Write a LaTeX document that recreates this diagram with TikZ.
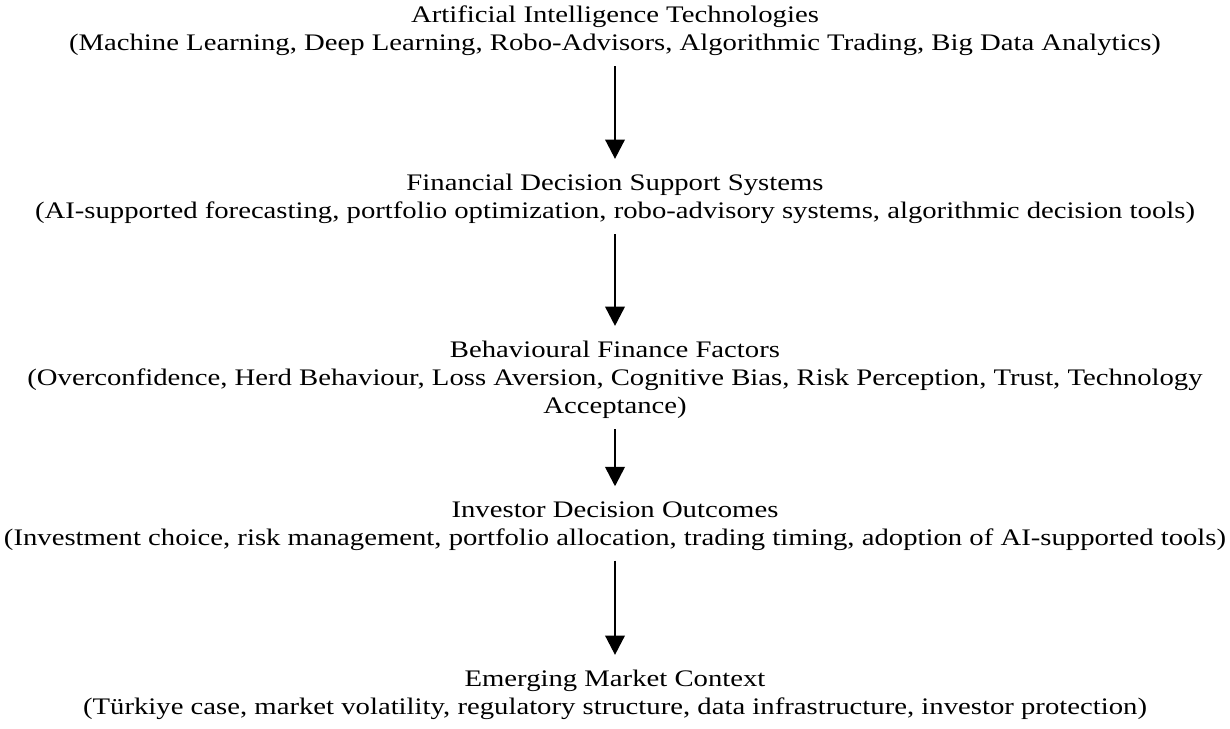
\documentclass[tikz,border=0pt]{standalone}
\usepackage{fontspec}
\setmainfont{Liberation Serif}[FakeStretch=1.21]
\usetikzlibrary{arrows.meta, positioning}

\begin{document}
\begin{tikzpicture}[x=0.2mm, y={(0,-0.2mm)},
    stage/.style={align=center, inner sep=0pt, font=\fontsize{13.5}{15.9}\selectfont},
    flow/.style={line width=1.5pt,
        -{Triangle[width=0.01pt, length=0.01pt, sep=2.2pt] Triangle[width=11pt, length=11pt]},
        shorten <=2mm, shorten >=3mm}]
    % page frame
    \useasboundingbox (0,0) rectangle (1230,728);

    % the five stages, top to bottom
    \node[stage] (ai) at (615,31) {Artificial Intelligence Technologies\\
        (Machine Learning, Deep Learning, Robo-Advisors, Algorithmic Trading, Big Data Analytics)};
    \node[stage] (dss) at (615,199) {Financial Decision Support Systems\\
        (AI-supported forecasting, portfolio optimization, robo-advisory systems, algorithmic decision tools)};
    \node[stage] (bff) at (615,380) {Behavioural Finance Factors\\
        (Overconfidence, Herd Behaviour, Loss Aversion, Cognitive Bias, Risk Perception, Trust, Technology\\
        Acceptance)};
    \node[stage] (ido) at (615,526) {Investor Decision Outcomes\\
        (Investment choice, risk management, portfolio allocation, trading timing, adoption of AI-supported tools)};
    \node[stage] (emc) at (615,695) {Emerging Market Context\\
        (T\"urkiye case, market volatility, regulatory structure, data infrastructure, investor protection)};

    % arrows between the stages
    \draw[flow] (ai.south) -- (dss.north);
    \draw[flow] (dss.south) -- (bff.north);
    \draw[flow] (bff.south) -- (ido.north);
    \draw[flow] (ido.south) -- (emc.north);
\end{tikzpicture}
\end{document}
